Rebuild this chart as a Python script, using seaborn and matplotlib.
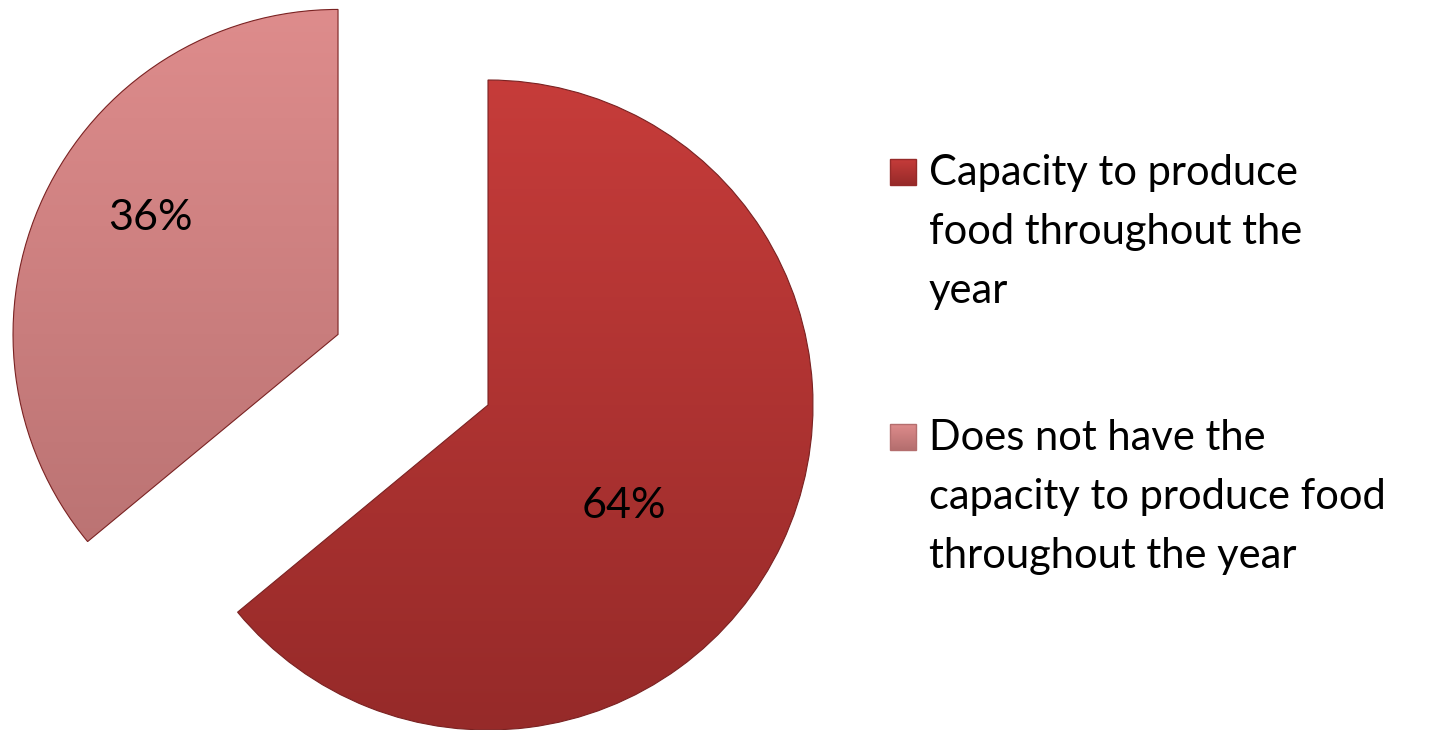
import numpy as np
import matplotlib
matplotlib.use("Agg")
import matplotlib.pyplot as plt
from matplotlib.patches import Rectangle
from matplotlib.colors import LinearSegmentedColormap
import seaborn as sns

# Survey shares
categories = [
    "Capacity to produce\nfood throughout the\nyear",
    "Does not have the\ncapacity to produce food\nthroughout the year",
]
shares = [64, 36]
pct_labels = ["64%", "36%"]

# Top / bottom shades of each slice
top_colors = ["#C63C3A", "#DE8C8C"]
bottom_colors = ["#962A29", "#B46E6E"]

sns.set_theme(style="white")
plt.rcParams["font.family"] = ["Lato", "DejaVu Sans"]

W, H = 1430, 730
fig = plt.figure(figsize=(W / 100, H / 100), dpi=100)
ax = fig.add_axes([0, 0, 1, 1])

cx, cy, r = 488, H - 405, 325
explode_frac = [0.0, 0.51]
wedges, texts = ax.pie(
    shares,
    startangle=90,
    counterclock=False,
    explode=[e * r for e in explode_frac],
    center=(cx, cy),
    radius=r,
    colors=top_colors,
    wedgeprops=dict(edgecolor="#7a2222", linewidth=0.8),
    frame=True,
)
ax.set_xlim(0, W)
ax.set_ylim(0, H)
ax.set_aspect("equal")
ax.axis("off")


def gradient_fill(patch, x0, x1, y0, y1, c_top, c_bot, z):
    cmap = LinearSegmentedColormap.from_list("g", [c_bot, c_top])
    grad = np.linspace(0, 1, 256).reshape(-1, 1)
    im = ax.imshow(grad, cmap=cmap, origin="lower", aspect="auto",
                   extent=[x0, x1, y0, y1], zorder=z)
    im.set_clip_path(patch)
    return im


# Vertical gradient fill clipped to each slice
for w, c_top, c_bot in zip(wedges, top_colors, bottom_colors):
    wx, wy = w.center
    z = w.get_zorder()
    gradient_fill(w, wx - r, wx + r, wy - r, wy + r, c_top, c_bot, z + 0.1)
    w.set_facecolor("none")
    w.set_zorder(z + 0.2)

# Percentage labels placed inside each slice
label_radius = [0.52, 0.68]
label_turn = [-11.4, -6.5]
start = 90.0
for w, lab, s, rad, turn in zip(wedges, pct_labels, shares, label_radius, label_turn):
    sweep = 360.0 * s / sum(shares)
    mid = start - sweep / 2
    start -= sweep
    a = np.radians(mid + turn)
    wx, wy = w.center
    ax.text(wx + rad * r * np.cos(a), wy + rad * r * np.sin(a), lab,
            ha="center", va="center", fontsize=31, color="black", zorder=10)

# Legend
leg_x = 890
sq = 26
first_baselines = [H - 185, H - 450]
line_h = 59
for name, c_top, c_bot, yb in zip(categories, top_colors, bottom_colors, first_baselines):
    box = Rectangle((leg_x, yb), sq, sq, facecolor="none",
                    edgecolor=c_bot, linewidth=1.0, zorder=11)
    ax.add_patch(box)
    gradient_fill(box, leg_x, leg_x + sq, yb, yb + sq, c_top, c_bot, 10)
    for i, line in enumerate(name.split("\n")):
        ax.text(leg_x + 39, yb - i * line_h, line, ha="left", va="baseline",
                fontsize=30, color="black", zorder=10)

fig.savefig("out.png", dpi=100, facecolor="white")
